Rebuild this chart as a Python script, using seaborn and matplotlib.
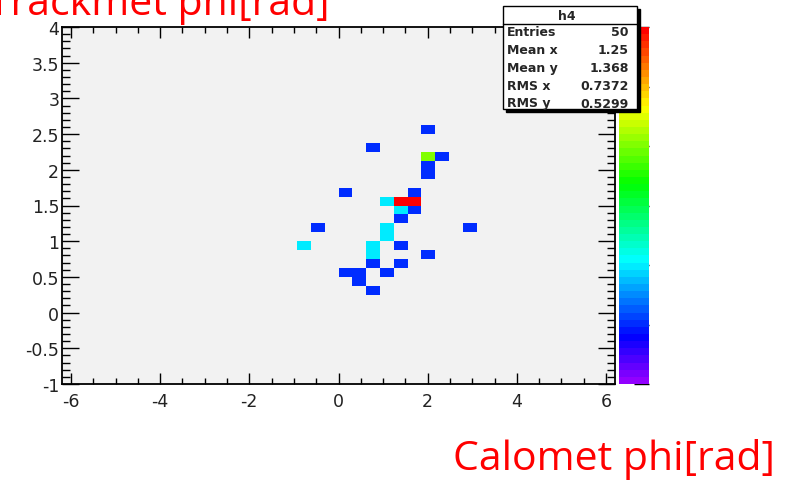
import colorsys

import numpy as np
import matplotlib
matplotlib.use("Agg")
import matplotlib.pyplot as plt
import seaborn as sns
from matplotlib.colors import ListedColormap
from matplotlib.patches import Rectangle
from matplotlib.lines import Line2D
from matplotlib.ticker import MultipleLocator, FuncFormatter, NullFormatter

# ---- histogram h4: filled cells (bin centres) and their contents ----
calo_phi = [2.015, 2.325, 2.015, 2.015, 1.705, 0.155, 1.705, 1.395, -0.465, 1.395,
            0.775, 1.395, 0.155, 0.465, 0.465, 1.085, 0.775, 0.775, 2.945, 2.015,
            1.085, 1.395, 1.085, 1.085, -0.775, 0.775, 0.775,
            2.015,
            1.395, 1.705]
track_phi = [2.5625, 2.1875, 2.0625, 1.9375, 1.6875, 1.6875, 1.4375, 1.3125, 1.1875, 0.9375,
             0.6875, 0.6875, 0.5625, 0.5625, 0.4375, 0.5625, 0.3125, 2.3125, 1.1875, 0.8125,
             1.5625, 1.4375, 1.1875, 1.0625, 0.9375, 0.9375, 0.8125,
             2.1875,
             1.5625, 1.5625]
cell_counts = [1, 1, 1, 1, 1, 1, 1, 1, 1, 1,
               1, 1, 1, 1, 1, 1, 1, 1, 1, 1,
               2, 2, 2, 2, 2, 2, 2,
               4,
               6, 6]

x_edges = np.linspace(-6.2, 6.2, 41)
y_edges = np.linspace(-1.0, 4.0, 41)
z_range = (0, 6)

hist_name = "h4"
stat_names = ["Entries", "Mean x", "Mean y", "RMS x", "RMS y"]
stat_values = ["50", "1.25", "1.368", "0.7372", "0.5299"]

x_title = "Calomet phi[rad]"
y_title = "Trackmet phi[rad]"

# ---- ROOT "pretty" palette: 50 saturated hues from violet to red ----
palette = [colorsys.hls_to_rgb((280 - (i + 1) * 280 / 50) / 360, 0.5, 1.0) for i in range(50)]
root_cmap = ListedColormap(palette)

sns.set_style("ticks")
plt.rcParams["font.family"] = ["DejaVu Sans"]
plt.rcParams["axes.unicode_minus"] = False

W, H = 792, 481
fig = plt.figure(figsize=(W / 100, H / 100), dpi=100)


def fx(px):
    return px / W


def fy(py):
    return 1 - py / H


ax = fig.add_axes([fx(62), fy(385), fx(615) - fx(62), fy(28) - fy(385)])
cax = fig.add_axes([fx(619), fy(385), fx(649) - fx(619), fy(28) - fy(385)])
ax.set_facecolor("#f2f2f2")

sns.histplot(x=calo_phi, y=track_phi, weights=cell_counts,
             bins=(x_edges, y_edges), cmap=root_cmap,
             vmin=z_range[0], vmax=z_range[1],
             cbar=True, cbar_ax=cax, ax=ax)

ax.set_xlim(x_edges[0], x_edges[-1])
ax.set_ylim(y_edges[0], y_edges[-1])
ax.set_xlabel("")
ax.set_ylabel("")

ax.xaxis.set_major_locator(MultipleLocator(2))
ax.xaxis.set_minor_locator(MultipleLocator(0.5))
ax.yaxis.set_major_locator(MultipleLocator(0.5))
ax.yaxis.set_minor_locator(MultipleLocator(0.1))
fmt = FuncFormatter(lambda v, _: "%g" % round(v, 3))
ax.xaxis.set_major_formatter(fmt)
ax.yaxis.set_major_formatter(fmt)

for sp in ax.spines.values():
    sp.set_visible(True)
    sp.set_color("black")
    sp.set_linewidth(1.3)

ax.tick_params(which="both", direction="in", top=True, right=True,
               color="black", width=1.0, labelsize=12.5, labelcolor="#222222")
ax.tick_params(axis="x", which="major", length=8, pad=6)
ax.tick_params(axis="x", which="minor", length=4)
ax.tick_params(axis="y", which="major", length=12, pad=2)
ax.tick_params(axis="y", which="minor", length=6)

# colour scale: ticks on the right edge pointing inward, no frame
cbar = ax.collections[0].colorbar
cbar.outline.set_visible(False)
cbar.set_ticks(range(z_range[0], z_range[1] + 1))
cax.yaxis.set_major_formatter(NullFormatter())
cax.tick_params(direction="in", length=11, width=1.0, color="black", right=True, left=False)

# ---- statistics box ----
bx0, by0, bx1, by1 = 503, 7, 637, 110
fig.add_artist(Rectangle((fx(bx0 + 3), fy(by1 + 3)), fx(bx1) - fx(bx0), fy(by0) - fy(by1),
                         transform=fig.transFigure, facecolor="black", edgecolor="black",
                         zorder=5))
fig.add_artist(Rectangle((fx(bx0), fy(by1)), fx(bx1) - fx(bx0), fy(by0) - fy(by1),
                         transform=fig.transFigure, facecolor="white", edgecolor="black",
                         linewidth=1.0, zorder=6))
fig.add_artist(Line2D([fx(bx0), fx(bx1)], [fy(25), fy(25)], transform=fig.transFigure,
                      color="black", linewidth=1.0, zorder=7))
fig.text(fx(567), fy(16.5), hist_name, ha="center", va="center", fontsize=9,
         fontweight="bold", zorder=8)
row_y = [32.5, 50.5, 68.5, 86.5, 104]
for name, val, yy in zip(stat_names, stat_values, row_y):
    fig.text(fx(507), fy(yy), name, ha="left", va="center", fontsize=9,
             fontweight="bold", zorder=8)
    fig.text(fx(629), fy(yy), val, ha="right", va="center", fontsize=9,
             fontweight="bold", zorder=8)

# ---- axis titles ----
title_font = ["Open Sans", "DejaVu Sans"]
fig.text(fx(775), fy(470), x_title, ha="right", va="baseline", color="#ff0000",
         fontsize=29.5, family=title_font)
fig.text(fx(329), fy(15), y_title, ha="right", va="baseline", color="#ff0000",
         fontsize=29.5, family=title_font)

fig.savefig("out.png", dpi=100)
